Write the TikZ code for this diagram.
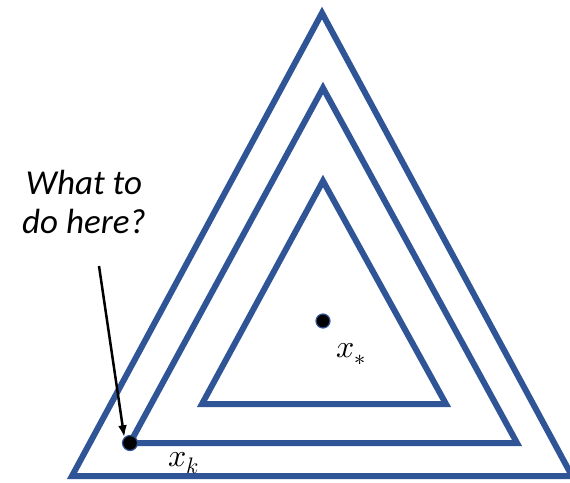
\documentclass[tikz,border=0pt]{standalone}
\usepackage{fontspec}
\usepackage{unicode-math}
\setmathfont{Latin Modern Math}
\usetikzlibrary{arrows.meta}
\newfontfamily\calib{Carlito}
\definecolor{triblue}{RGB}{47,85,151}
\begin{document}
\begin{tikzpicture}[x=1pt,y=-1pt,
  tri/.style={draw=triblue,line width=6pt,line join=miter},
  pt/.style={circle,fill=black,draw=triblue,line width=1.2pt,inner sep=0pt,minimum size=#1},
  lbl/.style={inner sep=0pt,font=\fontsize{32}{36}\selectfont},
  note/.style={align=center,inner sep=0pt,font=\calib\itshape\fontsize{35}{39}\selectfont}]
\useasboundingbox (0,0) rectangle (570,482);
% outer
\coordinate (oa) at (322,13);
\coordinate (ob) at (72,476);
\coordinate (oc) at (572,476);
\draw[tri] (oa) -- (ob) -- (oc) -- cycle;
% middle
\coordinate (ma) at (323,88);
\coordinate (mb) at (130,443);
\coordinate (mc) at (517,443);
\draw[tri] (ma) -- (mb) -- (mc) -- cycle;
% inner
\coordinate (ia) at (323,181);
\coordinate (ib) at (202,404);
\coordinate (ic) at (446,404);
\draw[tri] (ia) -- (ib) -- (ic) -- cycle;
% points
\node[pt=15pt] (xk) at (130,443) {};
\node[pt=14pt] (xs) at (323,321) {};
\node[lbl] (lk) at (184,463) {$x_k$};
\node[lbl] (ls) at (351,354) {$x_*$};
% note
\node[note] (q) at (84,202) {What to\\do here?};
\coordinate (as) at (99,266);
\draw[line width=2.5pt,-{Latex[length=12pt,width=9pt]}] (as) -- (xk.north west);
\end{tikzpicture}
\end{document}
